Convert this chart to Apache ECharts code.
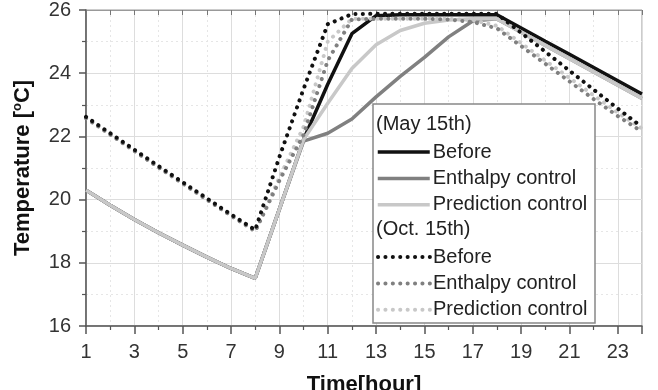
<!DOCTYPE html>
<html>
<head>
<meta charset="utf-8">
<script src="https://cdn.jsdelivr.net/npm/echarts@6/dist/echarts.min.js"></script>
<style>
  html, body { margin: 0; padding: 0; background: #fff; }
  #chart { width: 658px; height: 390px; }
</style>
</head>
<body>
<div id="chart"></div>
<script>
// hours of the day
const hours = [1, 2, 3, 4, 5, 6, 7, 8, 9, 10, 11, 12, 13, 14, 15, 16, 17, 18, 19, 20, 21, 22, 23, 24];

// May 15th
const mayBefore = [20.3, 19.82, 19.37, 18.95, 18.56, 18.18, 17.82, 17.51, 19.7, 21.9, 23.65, 25.25,
  25.82, 25.85, 25.85, 25.85, 25.85, 25.85, 25.43, 25.01, 24.6, 24.18, 23.76, 23.34];
const mayEnthalpy = [20.3, 19.82, 19.37, 18.95, 18.56, 18.18, 17.82, 17.51, 19.7, 21.85, 22.1, 22.55,
  23.25, 23.9, 24.5, 25.15, 25.65, 25.72, 25.3, 24.88, 24.46, 24.04, 23.62, 23.2];
const mayPrediction = [20.3, 19.82, 19.37, 18.95, 18.56, 18.18, 17.82, 17.51, 19.7, 21.9, 23.05, 24.15,
  24.9, 25.35, 25.58, 25.68, 25.72, 25.72, 25.3, 24.88, 24.46, 24.04, 23.62, 23.2];

// Oct. 15th
const octBefore = [22.62, 22.1, 21.58, 21.06, 20.55, 20.04, 19.53, 19.04, 21.35, 23.5, 25.55, 25.87,
  25.88, 25.88, 25.88, 25.88, 25.88, 25.88, 25.28, 24.68, 24.08, 23.48, 22.88, 22.3];
const octEnthalpy = [22.58, 22.06, 21.54, 21.02, 20.51, 20.0, 19.49, 19.0, 20.6, 22.05, 24.4, 25.7,
  25.72, 25.72, 25.72, 25.7, 25.62, 25.42, 24.86, 24.3, 23.74, 23.18, 22.64, 22.15];
const octPrediction = [22.58, 22.06, 21.54, 21.02, 20.51, 20.0, 19.49, 19.0, 20.7, 22.3, 25.0, 25.72,
  25.72, 25.72, 25.72, 25.72, 25.68, 25.5, 24.95, 24.4, 23.85, 23.3, 22.75, 22.25];

const pairs = (vals) => hours.map((h, i) => [h, vals[i]]);

const FONT = "'Liberation Sans', Arial, sans-serif";
const BLACK = "#111";
const GRAY = "#808080";
const LIGHT = "#c8c8c8";

const solid = (name, color, data) => ({
  name: name,
  type: "line",
  symbol: "none",
  data: pairs(data),
  lineStyle: { color: color, width: 3.5 },
  itemStyle: { color: color },
  z: 2,
});
const dotted = (name, color, data) => ({
  name: name,
  type: "line",
  symbol: "none",
  data: pairs(data),
  lineStyle: { color: color, width: 4, type: [0.1, 7.3], cap: "round" },
  itemStyle: { color: color },
  z: 3,
});

const legendBase = {
  orient: "vertical",
  left: 376,
  padding: 0,
  itemWidth: 52,
  itemHeight: 14,
  itemGap: 6.4,
  itemStyle: { opacity: 0 },
  lineStyle: { width: "inherit" },
  textStyle: { fontFamily: FONT, fontSize: 20, color: "#222", padding: [0, 0, 0, -2] },
  z: 6,
};

const chart = echarts.init(document.getElementById("chart"));

chart.setOption({
  animation: false,
  grid: {
    left: 86,
    right: 16,
    top: 10,
    bottom: 64,
    outerBoundsMode: "none",
    containLabel: false,
    show: true,
    borderColor: "#999",
    borderWidth: 1,
  },
  xAxis: [
    {
      type: "value",
      min: 1,
      max: 24,
      interval: 2,
      name: "Time[hour]",
      nameLocation: "middle",
      nameGap: 48,
      nameTextStyle: { fontFamily: FONT, fontSize: 22, fontWeight: "bold", color: "#111" },
      axisLine: { lineStyle: { color: "#555", width: 1.5 } },
      axisTick: { length: 8, lineStyle: { color: "#555", width: 1.5 } },
      minorTick: { show: true, splitNumber: 2, length: 4, lineStyle: { color: "#555", width: 1.2 } },
      axisLabel: {
        fontFamily: FONT,
        fontSize: 20,
        color: "#333",
        margin: 16,
        formatter: (v) => (v % 2 === 1 ? String(v) : ""),
      },
      splitLine: { show: true, lineStyle: { color: "#ddd", width: 1 } },
      minorSplitLine: { show: true, lineStyle: { color: "#e6e6e6", width: 1, type: [2, 3] } },
    },
    {
      type: "value",
      position: "top",
      min: 1,
      max: 24,
      interval: 2,
      axisLine: { show: true, lineStyle: { color: "#999", width: 1 } },
      axisTick: { show: true, inside: true, length: 5, lineStyle: { color: "#777", width: 1 } },
      minorTick: { show: true, splitNumber: 2, length: 5, lineStyle: { color: "#777", width: 1 } },
      axisLabel: { show: false },
      splitLine: { show: false },
    },
  ],
  yAxis: {
    type: "value",
    min: 16,
    max: 26,
    interval: 2,
    name: "Temperature [{sup|o}C]",
    nameLocation: "middle",
    nameGap: 52,
    nameTextStyle: {
      fontFamily: FONT,
      fontSize: 22,
      fontWeight: "bold",
      color: "#111",
      rich: { sup: { fontFamily: FONT, fontSize: 13, fontWeight: "bold", color: "#111", verticalAlign: "top", padding: [0, 0, 10, 0] } },
    },
    axisLine: { show: true, lineStyle: { color: "#555", width: 1.5 } },
    axisTick: { show: true, length: 7, lineStyle: { color: "#555", width: 1.5 } },
    minorTick: { show: true, splitNumber: 2, length: 4, lineStyle: { color: "#555", width: 1.2 } },
    axisLabel: { fontFamily: FONT, fontSize: 20, color: "#333", margin: 15 },
    splitLine: { show: true, lineStyle: { color: "#ddd", width: 1 } },
    minorSplitLine: { show: true, lineStyle: { color: "#e6e6e6", width: 1, type: [2, 3] } },
  },
  legend: [
    Object.assign({}, legendBase, {
      top: 142,
      data: ["Before", "Enthalpy control", "Prediction control"],
    }),
    Object.assign({}, legendBase, {
      top: 247,
      data: ["Before ", "Enthalpy control ", "Prediction control "],
    }),
  ],
  graphic: [
    {
      type: "rect",
      z: 5,
      shape: { x: 373, y: 104, width: 222, height: 219 },
      style: { fill: "#fff", stroke: "#888", lineWidth: 1.5 },
    },
    {
      type: "text",
      z: 6,
      x: 376,
      y: 124,
      style: { text: "(May 15th)", font: "20px " + FONT, fill: "#222", verticalAlign: "middle" },
    },
    {
      type: "text",
      z: 6,
      x: 376,
      y: 229,
      style: { text: "(Oct. 15th)", font: "20px " + FONT, fill: "#222", verticalAlign: "middle" },
    },
  ],
  series: [
    solid("Before", BLACK, mayBefore),
    solid("Enthalpy control", GRAY, mayEnthalpy),
    solid("Prediction control", LIGHT, mayPrediction),
    dotted("Prediction control ", LIGHT, octPrediction),
    dotted("Enthalpy control ", GRAY, octEnthalpy),
    dotted("Before ", BLACK, octBefore),
  ],
});
</script>
</body>
</html>
